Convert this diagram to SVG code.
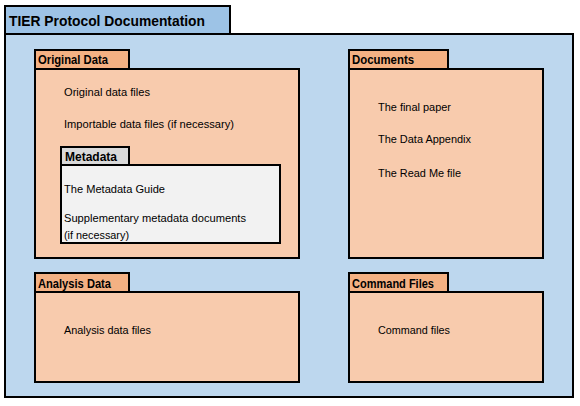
<svg xmlns="http://www.w3.org/2000/svg" width="580" height="406" viewBox="0 0 580 406">
<style>
rect{stroke:#000;stroke-width:2}
.otab{fill:#9DC3E6}
.obody{fill:#BDD7EE}
.ptab{fill:#F4B183}
.pbody{fill:#F8CBAD}
.mtab{fill:#D9D9D9}
.mbody{fill:#F2F2F2}
text{font-family:"Liberation Sans",Arial,sans-serif;fill:#000}
.title{font-size:15px;font-weight:bold}
.head{font-size:12px;font-weight:bold}
.item{font-size:11px}
</style>
<rect width="580" height="406" fill="#fff" style="stroke:none"/>
<g id="tier">
<rect class="otab" x="5" y="6" width="225" height="28"/>
<rect class="obody" x="5" y="34" width="568" height="363"/>
<text class="title" x="9" y="26" textLength="196" lengthAdjust="spacingAndGlyphs">TIER Protocol Documentation</text>
</g>
<g id="original-data">
<rect class="ptab" x="35" y="50" width="94" height="19"/>
<rect class="pbody" x="35" y="69" width="264" height="189"/>
<text class="head" x="38" y="64" textLength="70" lengthAdjust="spacingAndGlyphs">Original Data</text>
<text class="item" x="64" y="96" textLength="86" lengthAdjust="spacingAndGlyphs">Original data files</text>
<text class="item" x="64" y="128" textLength="170" lengthAdjust="spacingAndGlyphs">Importable data files (if necessary)</text>
</g>
<g id="metadata">
<rect class="mtab" x="61" y="147" width="68" height="18"/>
<rect class="mbody" x="61" y="165" width="219" height="78"/>
<text class="head" x="65" y="161" textLength="52" lengthAdjust="spacingAndGlyphs">Metadata</text>
<text class="item" x="64" y="193" textLength="101" lengthAdjust="spacingAndGlyphs">The Metadata Guide</text>
<text class="item" x="64" y="222" textLength="182" lengthAdjust="spacingAndGlyphs">Supplementary metadata documents</text>
<text class="item" x="64" y="239" textLength="65" lengthAdjust="spacingAndGlyphs">(if necessary)</text>
</g>
<g id="documents">
<rect class="ptab" x="349" y="50" width="99" height="19"/>
<rect class="pbody" x="349" y="69" width="194" height="189"/>
<text class="head" x="352" y="64" textLength="62" lengthAdjust="spacingAndGlyphs">Documents</text>
<text class="item" x="378" y="111" textLength="73" lengthAdjust="spacingAndGlyphs">The final paper</text>
<text class="item" x="378" y="143" textLength="93" lengthAdjust="spacingAndGlyphs">The Data Appendix</text>
<text class="item" x="378" y="177" textLength="83" lengthAdjust="spacingAndGlyphs">The Read Me file</text>
</g>
<g id="analysis-data">
<rect class="ptab" x="35" y="273" width="94" height="19"/>
<rect class="pbody" x="35" y="292" width="264" height="90"/>
<text class="head" x="38" y="288" textLength="73" lengthAdjust="spacingAndGlyphs">Analysis Data</text>
<text class="item" x="64" y="334" textLength="87" lengthAdjust="spacingAndGlyphs">Analysis data files</text>
</g>
<g id="command-files">
<rect class="ptab" x="349" y="273" width="99" height="19"/>
<rect class="pbody" x="349" y="292" width="194" height="90"/>
<text class="head" x="352" y="288" textLength="82" lengthAdjust="spacingAndGlyphs">Command Files</text>
<text class="item" x="378" y="334" textLength="72" lengthAdjust="spacingAndGlyphs">Command files</text>
</g>
<g id="connectors"/>
</svg>
